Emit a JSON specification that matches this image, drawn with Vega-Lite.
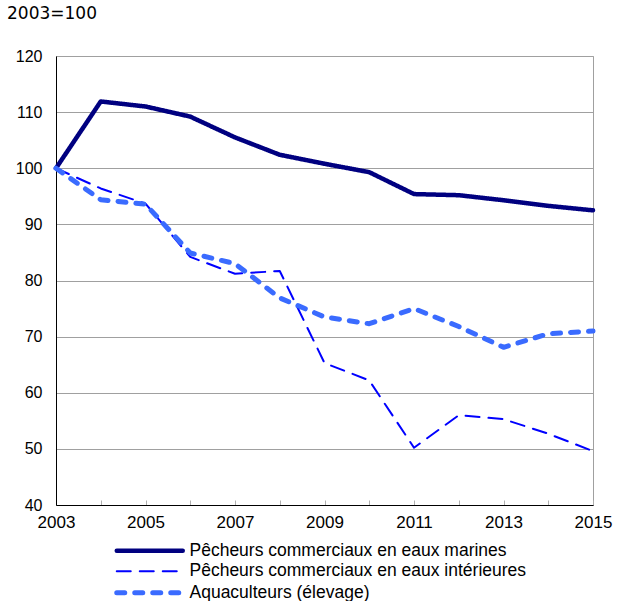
{
  "$schema": "https://vega.github.io/schema/vega-lite/v6.json",
  "width": 537,
  "height": 449,
  "autosize": {"type": "none"},
  "padding": {"left": 56, "top": 56, "right": 29, "bottom": 96},
  "background": "white",
  "title": {
    "text": "2003=100",
    "anchor": "start",
    "frame": "group",
    "dx": -49,
    "offset": 25,
    "font": "DejaVu Sans",
    "fontSize": 17,
    "fontWeight": "normal",
    "color": "#000000"
  },
  "config": {
    "view": {"stroke": "#a0a0a0", "strokeWidth": 1},
    "font": "Liberation Sans"
  },
  "data": {
    "values": [
      {"year": 2003, "series": "Pêcheurs commerciaux en eaux marines", "value": 100},
      {"year": 2004, "series": "Pêcheurs commerciaux en eaux marines", "value": 111.9},
      {"year": 2005, "series": "Pêcheurs commerciaux en eaux marines", "value": 111.0},
      {"year": 2006, "series": "Pêcheurs commerciaux en eaux marines", "value": 109.2},
      {"year": 2007, "series": "Pêcheurs commerciaux en eaux marines", "value": 105.5},
      {"year": 2008, "series": "Pêcheurs commerciaux en eaux marines", "value": 102.4},
      {"year": 2009, "series": "Pêcheurs commerciaux en eaux marines", "value": 100.8},
      {"year": 2010, "series": "Pêcheurs commerciaux en eaux marines", "value": 99.3},
      {"year": 2011, "series": "Pêcheurs commerciaux en eaux marines", "value": 95.4},
      {"year": 2012, "series": "Pêcheurs commerciaux en eaux marines", "value": 95.2},
      {"year": 2013, "series": "Pêcheurs commerciaux en eaux marines", "value": 94.3},
      {"year": 2014, "series": "Pêcheurs commerciaux en eaux marines", "value": 93.3},
      {"year": 2015, "series": "Pêcheurs commerciaux en eaux marines", "value": 92.5},
      {"year": 2003, "series": "Pêcheurs commerciaux en eaux intérieures", "value": 100},
      {"year": 2004, "series": "Pêcheurs commerciaux en eaux intérieures", "value": 96.4},
      {"year": 2005, "series": "Pêcheurs commerciaux en eaux intérieures", "value": 93.7},
      {"year": 2006, "series": "Pêcheurs commerciaux en eaux intérieures", "value": 84.2},
      {"year": 2007, "series": "Pêcheurs commerciaux en eaux intérieures", "value": 81.2},
      {"year": 2008, "series": "Pêcheurs commerciaux en eaux intérieures", "value": 81.7},
      {"year": 2009, "series": "Pêcheurs commerciaux en eaux intérieures", "value": 65.3},
      {"year": 2010, "series": "Pêcheurs commerciaux en eaux intérieures", "value": 62.2},
      {"year": 2011, "series": "Pêcheurs commerciaux en eaux intérieures", "value": 50.2},
      {"year": 2012, "series": "Pêcheurs commerciaux en eaux intérieures", "value": 56.0},
      {"year": 2013, "series": "Pêcheurs commerciaux en eaux intérieures", "value": 55.3},
      {"year": 2014, "series": "Pêcheurs commerciaux en eaux intérieures", "value": 52.7},
      {"year": 2015, "series": "Pêcheurs commerciaux en eaux intérieures", "value": 49.6},
      {"year": 2003, "series": "Aquaculteurs (élevage)", "value": 100},
      {"year": 2004, "series": "Aquaculteurs (élevage)", "value": 94.4},
      {"year": 2005, "series": "Aquaculteurs (élevage)", "value": 93.6},
      {"year": 2006, "series": "Aquaculteurs (élevage)", "value": 84.9},
      {"year": 2007, "series": "Aquaculteurs (élevage)", "value": 83.0},
      {"year": 2008, "series": "Aquaculteurs (élevage)", "value": 76.9},
      {"year": 2009, "series": "Aquaculteurs (élevage)", "value": 73.5},
      {"year": 2010, "series": "Aquaculteurs (élevage)", "value": 72.3},
      {"year": 2011, "series": "Aquaculteurs (élevage)", "value": 75.0},
      {"year": 2012, "series": "Aquaculteurs (élevage)", "value": 71.8},
      {"year": 2013, "series": "Aquaculteurs (élevage)", "value": 68.1},
      {"year": 2014, "series": "Aquaculteurs (élevage)", "value": 70.5},
      {"year": 2015, "series": "Aquaculteurs (élevage)", "value": 71.0}
    ]
  },
  "mark": {"type": "line", "strokeCap": "round", "strokeJoin": "round"},
  "encoding": {
    "x": {
      "field": "year",
      "type": "quantitative",
      "scale": {"domain": [2003, 2015], "nice": false, "zero": false},
      "axis": {
        "title": null,
        "values": [2003, 2004, 2005, 2006, 2007, 2008, 2009, 2010, 2011, 2012, 2013, 2014, 2015],
        "format": "d",
        "labelExpr": "datum.value % 2 == 1 ? datum.label : ''",
        "grid": false,
        "domainColor": "#000000",
        "domainWidth": 1,
        "ticks": true,
        "tickSize": -5,
        "tickColor": "#b0b0b0",
        "labelPadding": 14,
        "labelFontSize": 17,
        "labelColor": "#000000",
        "labelFont": "Liberation Sans",
        "labelFlush": false
      }
    },
    "y": {
      "field": "value",
      "type": "quantitative",
      "scale": {"domain": [40, 120], "nice": false, "zero": false},
      "axis": {
        "title": null,
        "values": [40, 50, 60, 70, 80, 90, 100, 110, 120],
        "grid": true,
        "gridColor": "#a0a0a0",
        "gridWidth": 1,
        "ticks": false,
        "domainColor": "#000000",
        "domainWidth": 1,
        "labelPadding": 14,
        "labelFontSize": 16,
        "labelColor": "#000000",
        "labelFont": "Liberation Sans"
      }
    },
    "color": {
      "field": "series",
      "type": "nominal",
      "scale": {
        "domain": ["Pêcheurs commerciaux en eaux marines", "Pêcheurs commerciaux en eaux intérieures", "Aquaculteurs (élevage)"],
        "range": ["#000080", "#0000ff", "#3a6bff"]
      },
      "legend": {
        "title": null,
        "orient": "none",
        "legendX": 85,
        "legendY": 486,
        "padding": 0,
        "symbolType": "M-6,0H6",
        "symbolSize": 121,
        "labelFontSize": 17.5,
        "labelFont": "Liberation Sans",
        "labelColor": "#000000",
        "labelLimit": 0,
        "rowPadding": 1.5,
        "labelOffset": 31,
        "encode": {
          "symbols": {"update": {"strokeCap": {"value": "round"}}}
        }
      }
    },
    "strokeDash": {
      "field": "series",
      "type": "nominal",
      "scale": {
        "domain": ["Pêcheurs commerciaux en eaux marines", "Pêcheurs commerciaux en eaux intérieures", "Aquaculteurs (élevage)"],
        "range": [[1, 0], [14, 9], [8, 10]]
      }
    },
    "strokeWidth": {
      "field": "series",
      "type": "nominal",
      "scale": {
        "type": "ordinal",
        "domain": ["Pêcheurs commerciaux en eaux marines", "Pêcheurs commerciaux en eaux intérieures", "Aquaculteurs (élevage)"],
        "range": [4.5, 2, 5]
      }
    },
    "order": {"field": "year"}
  }
}
